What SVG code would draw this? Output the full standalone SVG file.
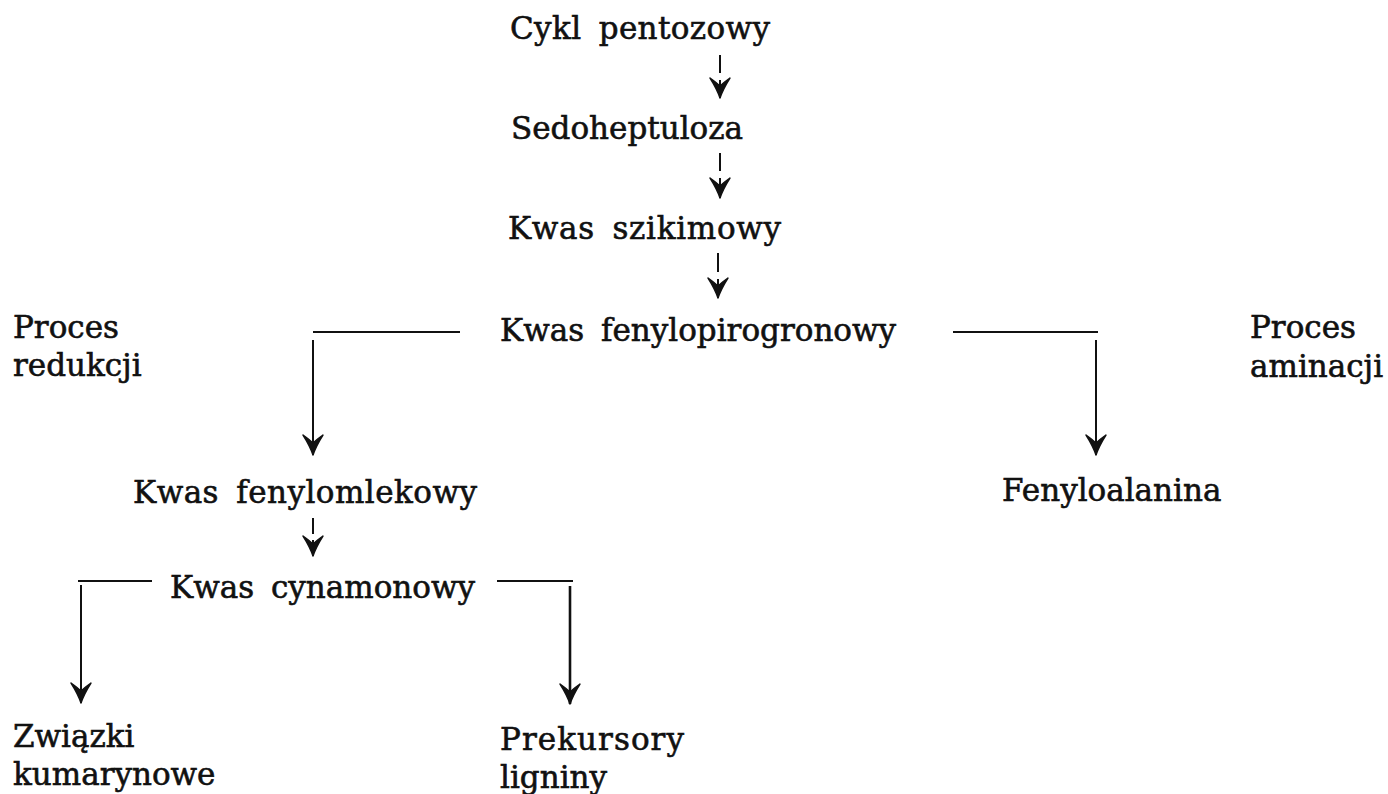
<svg xmlns="http://www.w3.org/2000/svg" width="1388" height="794" viewBox="0 0 1388 794">
  <style>
    .t { font-family: "DejaVu Serif", "Liberation Serif", serif; font-size: 31px; fill: #111; stroke: #111; stroke-width: 0.6; word-spacing: 7px; }
    .c { stroke: #111; stroke-width: 2; fill: none; }
  </style>
  <defs>
    <marker id="ah" markerUnits="userSpaceOnUse" viewBox="-21 -11 22 22" refX="0" refY="0" markerWidth="22" markerHeight="22" orient="auto">
      <path d="M0,0 Q-9,-3 -20,-10 Q-15,-3 -12,0 Q-15,3 -20,10 Q-9,3 0,0 Z" fill="#111" stroke="#111" stroke-width="1.4" stroke-linejoin="round"/>
    </marker>
  </defs>
  <rect width="1388" height="794" fill="#ffffff"/>

  <g id="connectors">
    <line class="c" x1="720" y1="55" x2="720" y2="73"/>
    <line class="c" x1="720" y1="80" x2="720" y2="98" marker-end="url(#ah)"/>
    <line class="c" x1="720" y1="153" x2="720" y2="171"/>
    <line class="c" x1="720" y1="178" x2="720" y2="198" marker-end="url(#ah)"/>
    <line class="c" x1="718" y1="253" x2="718" y2="272"/>
    <line class="c" x1="718" y1="279" x2="718" y2="298" marker-end="url(#ah)"/>

    <line class="c" x1="313" y1="332" x2="460" y2="332"/>
    <line class="c" x1="313" y1="340" x2="313" y2="455" marker-end="url(#ah)"/>
    <line class="c" x1="953" y1="332" x2="1098" y2="332"/>
    <line class="c" x1="1096" y1="340" x2="1096" y2="455" marker-end="url(#ah)"/>

    <line class="c" x1="313" y1="518" x2="313" y2="534"/>
    <line class="c" x1="313" y1="540" x2="313" y2="556" marker-end="url(#ah)"/>

    <line class="c" x1="78" y1="581" x2="152" y2="581"/>
    <line class="c" x1="81" y1="585" x2="81" y2="703" marker-end="url(#ah)"/>
    <line class="c" x1="497" y1="581" x2="573" y2="581"/>
    <line class="c" x1="570" y1="586" x2="570" y2="704" marker-end="url(#ah)" style="stroke-width:2.6"/>
  </g>

  <g id="n-cykl"><text class="t" x="510" y="39" textLength="260" lengthAdjust="spacing">Cykl pentozowy</text></g>
  <g id="n-sedo"><text class="t" x="511" y="139">Sedoheptuloza</text></g>
  <g id="n-szikimowy"><text class="t" x="508" y="239" textLength="273" lengthAdjust="spacing">Kwas szikimowy</text></g>
  <g id="n-fenylopirogronowy"><text class="t" x="500" y="341">Kwas fenylopirogronowy</text></g>
  <g id="n-redukcji"><text class="t" x="13" y="338">Proces</text><text class="t" x="13" y="376">redukcji</text></g>
  <g id="n-aminacji"><text class="t" x="1250" y="338">Proces</text><text class="t" x="1250" y="377">aminacji</text></g>
  <g id="n-fenylomlekowy"><text class="t" x="133" y="503" textLength="344" lengthAdjust="spacing">Kwas fenylomlekowy</text></g>
  <g id="n-fenyloalanina"><text class="t" x="1002" y="501">Fenyloalanina</text></g>
  <g id="n-cynamonowy"><text class="t" x="170" y="598">Kwas cynamonowy</text></g>
  <g id="n-kumarynowe"><text class="t" x="13" y="747">Związki</text><text class="t" x="13" y="785">kumarynowe</text></g>
  <g id="n-ligniny"><text class="t" x="500" y="750" textLength="184" lengthAdjust="spacing">Prekursory</text><text class="t" x="500" y="788">ligniny</text></g>
</svg>
